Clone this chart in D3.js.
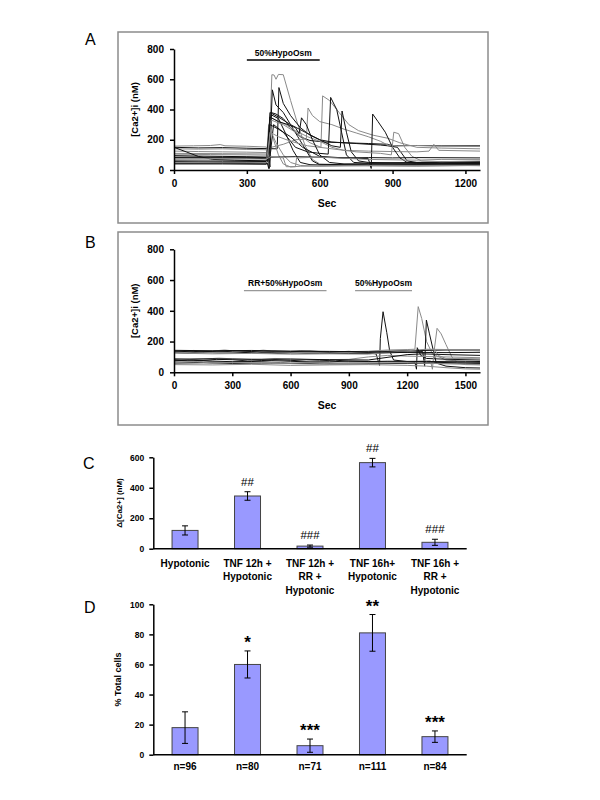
<!DOCTYPE html>
<html><head><meta charset="utf-8">
<script src="https://cdn.jsdelivr.net/npm/d3@7"></script>
<style>body{margin:0;background:#fff}svg{display:block}text{font-family:"Liberation Sans",Arial,sans-serif}</style>
</head><body><svg id="c" width="600" height="800"></svg>
<script>
// ---------- Panel A traces: [sec, nM] ----------
const tracesA = [
 [[0,158],[80,160],[150,162],[190,168],[210,160],[300,157],[380,152],[390,40],[403,630],[412,628],[420,600],[430,632],[450,630],[480,460],[510,300],[540,160],[570,70],[600,40],[700,35],[900,40],[1100,35],[1260,38]],
 [[0,55],[100,52],[200,50],[300,48],[385,46],[392,20],[405,530],[420,430],[450,380],[480,300],[510,220],[540,140],[570,60],[600,35],[800,40],[1000,38],[1260,45]],
 [[0,150],[100,146],[200,148],[300,144],[425,140],[432,545],[450,440],[480,360],[520,280],[560,230],[600,200],[650,185],[750,175],[850,165],[880,160],[920,150],[960,60],[1000,50],[1260,55]],
 [[0,95],[100,92],[200,90],[300,88],[390,85],[395,20],[400,380],[420,370],[450,340],[480,280],[520,220],[560,195],[620,185],[700,180],[800,175],[880,170],[900,160],[1000,162],[1100,160],[1260,160]],
 [[0,125],[100,122],[200,120],[300,118],[385,115],[395,350],[420,330],[460,300],[500,260],[550,220],[600,190],[650,150],[700,130],[800,125],[900,122],[1000,120],[1050,125],[1070,170],[1090,130],[1260,125]],
 [[0,82],[150,80],[300,78],[388,75],[392,10],[400,365],[430,340],[460,240],[490,130],[520,50],[560,35],[700,30],[1000,32],[1260,35]],
 [[0,68],[150,66],[300,64],[380,62],[390,300],[410,200],[430,100],[450,40],[480,20],[520,25],[700,28],[1000,25],[1260,30]],
 [[0,140],[100,138],[200,140],[300,136],[380,134],[390,20],[400,150],[450,170],[500,200],[545,205],[552,410],[570,360],[600,320],[650,300],[700,270],[750,245],[800,220],[850,190],[880,165],[920,160],[1000,162],[1100,158],[1260,155]],
 [[0,105],[150,102],[300,100],[385,98],[400,330],[450,300],[500,250],[560,180],[605,150],[612,490],[640,460],[680,380],[720,300],[760,260],[820,230],[880,210],[930,180],[1000,150],[1100,145],[1260,140]],
 [[0,45],[200,44],[385,42],[390,10],[410,300],[450,250],[500,150],[550,120],[600,110],[635,105],[645,480],[670,400],[690,250],[710,100],[740,50],[800,45],[1000,50],[1260,55]],
 [[0,60],[200,58],[385,56],[395,380],[430,350],[480,300],[540,250],[600,200],[650,160],[685,150],[692,390],[710,250],[730,120],[760,60],[800,50],[1000,45],[1260,50]],
 [[0,85],[200,84],[385,83],[395,300],[430,270],[480,220],[530,150],[600,90],[700,80],[800,75],[812,10],[818,370],[840,320],[870,250],[900,150],[930,80],[960,50],[1000,45],[1260,45]],
 [[0,110],[200,108],[385,106],[395,250],[430,220],[480,190],[550,160],[650,140],[750,120],[850,110],[895,100],[905,250],[925,240],[950,150],[980,90],[1020,60],[1100,55],[1260,60]],
 [[0,40],[200,40],[380,38],[395,350],[430,320],[470,300],[500,280],[515,240],[525,345],[545,300],[570,200],[600,100],[640,50],[700,40],[1000,40],[1260,42]],
 [[0,50],[200,48],[380,47],[398,260],[420,180],[450,100],[480,50],[520,30],[600,25],[800,30],[1000,28],[1200,30],[1260,28]],
 [[0,150],[50,120],[100,90],[160,70],[250,65],[380,60],[395,85],[500,88],[600,85],[700,80],[800,82],[900,80],[1000,82],[1260,80]],
 [[0,75],[200,74],[380,72],[400,90],[450,80],[462,22],[500,22],[505,80],[600,85],[800,70],[1000,65],[1100,70],[1260,70]]
];
const shadeA = ["g","k","k","k","g","k","g","g","g","k","k","k","g","k","g","k","g"];

// ---------- Panel B traces: [sec, nM] ----------
const tracesB = [
 [[0,135],[60,140],[150,132],[220,138],[300,134],[380,128],[450,130],[520,136],[600,131],[680,126],[750,128],[830,132],[900,127],[1000,125],[1040,120],[1058,45],[1062,220],[1076,394],[1095,260],[1110,140],[1130,80],[1200,70],[1350,65],[1500,60],[1575,58]],
 [[0,140],[50,134],[100,142],[200,138],[260,145],[300,140],[400,137],[460,144],[500,139],[600,135],[650,141],[700,136],[800,133],[900,134],[1000,137],[1100,145],[1200,148],[1240,150],[1257,427],[1275,350],[1300,200],[1330,120],[1400,80],[1500,70],[1575,65]],
 [[0,128],[80,124],[150,130],[230,126],[300,127],[450,128],[530,122],[600,126],[750,124],[900,122],[1050,125],[1200,130],[1280,135],[1290,40],[1299,340],[1315,250],[1335,140],[1350,60],[1400,40],[1500,30],[1575,28]],
 [[0,132],[150,128],[300,130],[370,136],[450,126],[600,128],[750,130],[900,128],[1000,135],[1100,140],[1200,138],[1300,145],[1340,150],[1354,286],[1375,250],[1400,180],[1430,100],[1460,60],[1500,50],[1575,48]],
 [[0,138],[100,133],[200,136],[300,141],[400,135],[500,131],[600,134],[700,138],[800,132],[900,136],[1000,130],[1200,140],[1400,145],[1575,145]],
 [[0,125],[200,120],[400,123],[600,118],[800,120],[1000,118],[1100,130],[1200,140],[1300,150],[1400,148],[1575,140]],
 [[0,143],[200,140],[400,142],[600,138],[800,136],[1000,133],[1200,130],[1400,128],[1575,130]],
 [[0,80],[70,74],[150,78],[220,84],[300,82],[380,74],[450,76],[520,82],[600,78],[680,72],[750,75],[830,79],[900,72],[1050,70],[1200,68],[1240,65],[1248,20],[1252,160],[1270,110],[1300,90],[1400,85],[1575,80]],
 [[0,70],[100,64],[150,72],[250,66],[300,68],[400,74],[450,70],[550,63],[600,66],[750,68],[900,65],[1050,66],[1200,70],[1320,75],[1330,20],[1340,150],[1360,110],[1400,90],[1575,88]],
 [[0,60],[150,62],[300,58],[450,60],[600,57],[750,55],[900,54],[1050,56],[1200,58],[1400,60],[1575,62]],
 [[0,90],[80,84],[150,86],[230,92],[300,88],[450,84],[520,90],[600,86],[750,82],[900,84],[1000,100],[1100,110],[1200,105],[1400,100],[1575,95]],
 [[0,75],[100,80],[200,73],[300,69],[400,70],[500,76],[600,72],[700,66],[800,68],[900,73],[1000,70],[1100,72],[1300,70],[1500,72],[1575,70]],
 [[0,50],[200,48],[400,52],[600,45],[800,48],[1000,50],[1200,45],[1300,40],[1400,30],[1500,22],[1575,20]],
 [[0,85],[200,88],[400,84],[600,86],[800,82],[1000,80],[1200,115],[1280,120],[1400,115],[1575,110]],
 [[0,65],[120,70],[200,60],[300,64],[400,62],[500,57],[600,58],[700,63],[800,55],[1000,60],[1200,62],[1400,55],[1575,50]]
];
const shadeB = ["k","g","k","g","k","g","k","k","g","k","g","k","g","k","g"];

const ticksAx = [0,300,600,900,1200];
const ticksBx = [0,300,600,900,1200,1500];
const ticksCa = [0,200,400,600,800];
const periodA = [[300,600,"50%HypoOsm"]];
const periodB = [[360,785,"RR+50%HypoOsm"],[932,1225,"50%HypoOsm"]];

// ---------- Panels C, D ----------
const groups = [["Hypotonic"],["TNF 12h +","Hypotonic"],["TNF 12h +","RR +","Hypotonic"],["TNF 16h+","Hypotonic"],["TNF 16h +","RR +","Hypotonic"]];
const deltaCa = [120, 346, 17, 565, 42];
const deltaCaErr = [30, 28, 7, 28, 20];
const marksC = ["", "##", "###", "##", "###"];
const ticksC = [0,200,400,600];
const pctCells = [18, 60, 6, 81, 12];
const pctErr = [10.5, 9, 4.4, 12.2, 3.8];
const marksD = ["", "*", "***", "**", "***"];
const nLabels = ["n=96","n=80","n=71","n=111","n=84"];
const ticksD = [0,20,40,60,80,100];

const svg = d3.select("#c");
svg.append("rect").attr("width",600).attr("height",800).attr("fill","#fff");

function panelLetter(t,x,y){svg.append("text").attr("x",x).attr("y",y).attr("font-size",16).text(t);}

function tracePanel(o){
  svg.append("rect").attr("x",o.box[0]).attr("y",o.box[1]).attr("width",o.box[2]).attr("height",o.box[3])
    .attr("fill","none").attr("stroke","#8c8c8c").attr("stroke-width",1.5);
  const x = d3.scaleLinear().domain([0,o.xmax]).range([174,480]);
  const y = d3.scaleLinear().domain([0,800]).range(o.yr);
  const g = svg.append("g");
  const line = d3.line().x(d=>x(d[0])).y(d=>y(d[1]));
  o.traces.forEach((t,i)=>{
    g.append("path").attr("d",line(t)).attr("fill","none")
      .attr("stroke",o.shade[i]==="g"?"#8a8a8a":"#111").attr("stroke-width",1).attr("stroke-linejoin","round");
  });
  const ax = svg.append("g").attr("transform",`translate(0,${o.yr[0]})`)
    .call(d3.axisBottom(x).tickValues(o.xt).tickFormat(d3.format("d")).tickSize(4).tickSizeOuter(0).tickPadding(6));
  const ay = svg.append("g").attr("transform",`translate(174,0)`)
    .call(d3.axisLeft(y).tickValues(ticksCa).tickSize(4).tickSizeOuter(0).tickPadding(6));
  [ax,ay].forEach(a=>{a.selectAll("path,line").attr("stroke","#000").attr("stroke-width",1.5);
    a.selectAll("text").attr("font-size",10).attr("font-weight","bold").attr("fill","#000")
      .attr("font-family","'Liberation Sans',Arial,sans-serif");});
  svg.append("text").attr("x",327).attr("y",o.yr[0]+37).attr("text-anchor","middle")
    .attr("font-size",10.5).attr("font-weight","bold").text("Sec");
  const ym=(o.yr[0]+o.yr[1])/2;
  svg.append("text").attr("transform",`translate(138,${ym}) rotate(-90)`).attr("text-anchor","middle")
    .attr("font-size",9.5).attr("font-weight","bold").text("[Ca2+]i (nM)");
  o.periods.forEach(p=>{
    svg.append("line").attr("x1",x(p[0])).attr("x2",x(p[1])).attr("y1",o.barY).attr("y2",o.barY)
      .attr("stroke",o.barColor).attr("stroke-width",1.3);
    svg.append("text").attr("x",(x(p[0])+x(p[1]))/2).attr("y",o.barY-4.5).attr("text-anchor","middle")
      .attr("font-size",8.5).attr("font-weight","bold").text(p[2]);
  });
}

panelLetter("A",85,45);
tracePanel({box:[118,32,370,191],xmax:1260,yr:[170,49],traces:tracesA,shade:shadeA,xt:ticksAx,periods:periodA,barY:60,barColor:"#000"});
panelLetter("B",85,248);
tracePanel({box:[118,232,370,193],xmax:1575,yr:[372.3,249.3],traces:tracesB,shade:shadeB,xt:ticksBx,periods:periodB,barY:290.7,barColor:"#999"});

function barPanel(o){
  const x = d3.scaleBand().domain(d3.range(5)).range([153.3,466.7]).paddingInner(0.584).paddingOuter(0.3);
  const y = d3.scaleLinear().domain([0,o.max]).range(o.yr);
  const g = svg.append("g");
  g.selectAll("rect.bar").data(o.vals).join("rect").attr("x",(d,i)=>x(i)).attr("y",d=>y(d))
    .attr("width",x.bandwidth()).attr("height",d=>o.yr[0]-y(d))
    .attr("fill","#9999ff").attr("stroke","#444").attr("stroke-width",1);
  o.vals.forEach((v,i)=>{
    const cx = x(i)+x.bandwidth()/2, t=y(v+o.err[i]), b=y(Math.max(0,v-o.err[i]));
    g.append("line").attr("x1",cx).attr("x2",cx).attr("y1",t).attr("y2",b).attr("stroke","#000").attr("stroke-width",1);
    [t,b].forEach(yy=>g.append("line").attr("x1",cx-3).attr("x2",cx+3).attr("y1",yy).attr("y2",yy).attr("stroke","#000").attr("stroke-width",1));
    if(o.marks[i]) g.append("text").attr("x",cx).attr("y",t+o.markDy).attr("text-anchor","middle")
      .attr("font-size",o.markSize).attr("font-weight",o.markWeight).text(o.marks[i]);
  });
  const ay = svg.append("g").attr("transform","translate(153.3,0)")
    .call(d3.axisLeft(y).tickValues(o.ticks).tickSize(4).tickSizeOuter(0).tickPadding(5));
  ay.selectAll("path,line").attr("stroke","#000").attr("stroke-width",1.5);
  ay.selectAll("text").attr("font-size",o.tickSize).attr("font-weight","bold").attr("fill","#000")
    .attr("font-family","'Liberation Sans',Arial,sans-serif");
  svg.append("line").attr("x1",153.3).attr("x2",466.7).attr("y1",o.yr[0]).attr("y2",o.yr[0]).attr("stroke","#000").attr("stroke-width",1.5);
  const ym=(o.yr[0]+o.yr[1])/2;
  svg.append("text").attr("transform",`translate(${o.labX},${ym}) rotate(-90)`).attr("text-anchor","middle")
    .attr("font-size",o.labSize).attr("font-weight","bold").text(o.label);
  o.cats.forEach((lines,i)=>{
    const t = svg.append("text").attr("x",x(i)+x.bandwidth()/2).attr("y",o.yr[0]+o.catDy)
      .attr("text-anchor","middle").attr("font-size",10).attr("font-weight","bold");
    lines.forEach((l,j)=>t.append("tspan").attr("x",x(i)+x.bandwidth()/2).attr("dy",j?13.5:0).text(l));
  });
}

panelLetter("C",83,469);
barPanel({vals:deltaCa,err:deltaCaErr,max:600,yr:[548.7,457.3],marks:marksC,markDy:-6,markSize:11.5,markWeight:"normal",
  ticks:ticksC,tickSize:8.5,label:"Δ[Ca2+] (nM)",labX:122,labSize:8,cats:groups,catDy:18});
panelLetter("D",84,613);
barPanel({vals:pctCells,err:pctErr,max:100,yr:[754.7,604.3],marks:marksD,markDy:-3,markSize:17,markWeight:"bold",
  ticks:ticksD,tickSize:8.5,label:"% Total cells",labX:121,labSize:9,cats:nLabels.map(n=>[n]),catDy:15});
</script></body></html>
